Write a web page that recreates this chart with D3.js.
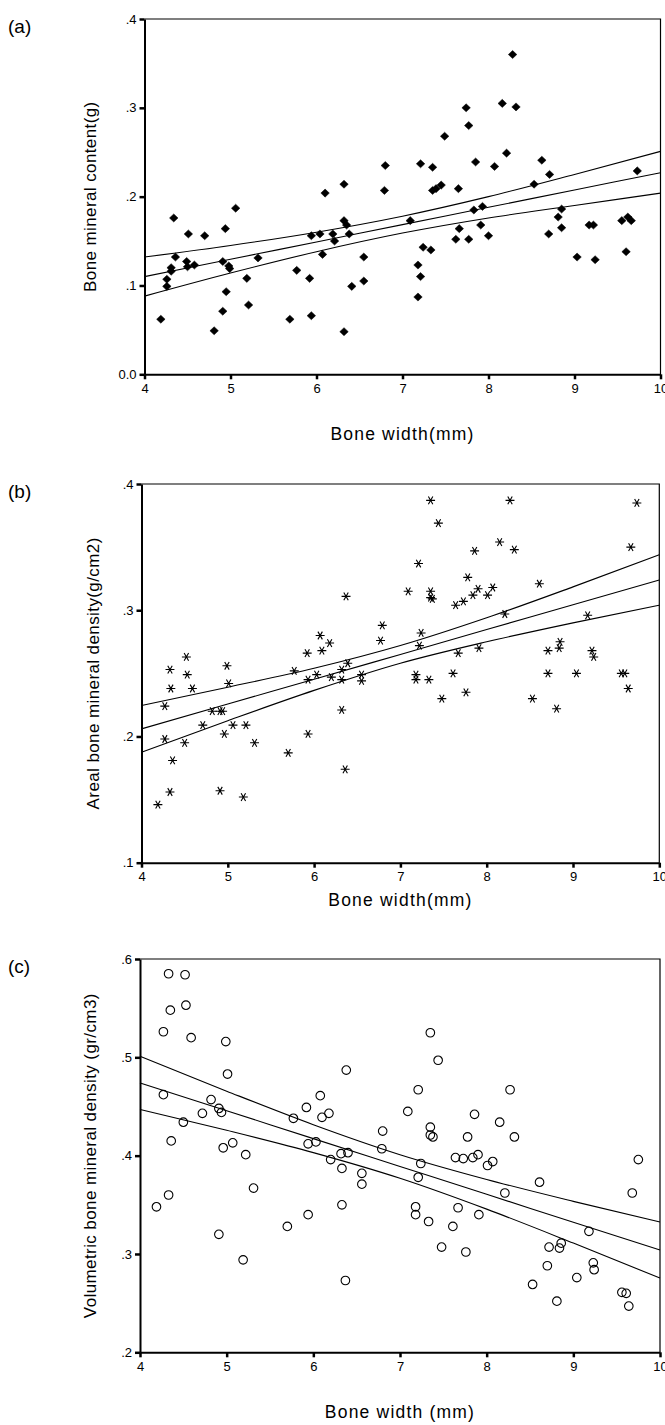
<!DOCTYPE html>
<html>
<head>
<meta charset="utf-8">
<script src="https://cdn.jsdelivr.net/npm/d3@7"></script>
<style>
  body { margin: 0; background: #fff; }
  text { font-family: "Liberation Sans", Arial, sans-serif; fill: #000; }
</style>
</head>
<body>
<div id="chart"></div>
<script>
// bone width (mm) - x values read per panel
const widthA = [4.19,4.26,4.26,4.31,4.31,4.34,4.36,4.49,4.50,4.51,4.58,4.70,4.81,4.91,4.91,4.94,4.95,4.98,4.99,5.06,
  5.19,5.21,5.32,5.69,5.77,5.92,5.94,5.94,6.04,6.07,6.10,6.19,6.21,6.32,6.32,6.35,6.32,6.38,6.41,6.55,6.55,6.79,6.80,
  7.09,7.18,7.21,7.18,7.21,7.24,7.33,7.35,7.35,7.39,7.45,7.49,7.65,7.62,7.66,7.74,7.77,7.77,7.83,7.85,
  7.91,7.93,8.00,8.07,8.16,8.21,8.28,8.32,8.53,8.62,8.70,8.71,8.81,8.85,8.85,9.03,9.17,9.22,9.24,9.55,
  9.60,9.62,9.66,9.73];
const bmcA = [0.062,0.099,0.107,0.120,0.116,0.176,0.132,0.127,0.121,0.158,0.123,0.156,0.049,0.127,0.071,0.164,0.093,0.122,0.119,0.187,
  0.108,0.078,0.131,0.062,0.117,0.108,0.156,0.066,0.158,0.135,0.204,0.158,0.150,0.214,0.173,0.168,0.048,0.158,0.099,0.132,0.105,0.207,0.235,
  0.173,0.123,0.110,0.087,0.237,0.143,0.140,0.233,0.207,0.209,0.213,0.268,0.209,0.152,0.164,0.300,0.280,0.152,0.185,0.239,
  0.168,0.189,0.156,0.234,0.305,0.249,0.360,0.301,0.214,0.241,0.158,0.225,0.177,0.186,0.165,0.132,0.168,0.168,0.129,0.173,
  0.138,0.177,0.173,0.229];

const widthB = [4.19,4.27,4.27,4.33,4.34,4.33,4.36,4.50,4.52,4.53,4.59,4.71,4.82,4.91,4.91,4.94,4.96,4.99,5.01,5.06,
  5.21,5.18,5.31,5.70,5.77,5.92,5.93,5.93,6.03,6.07,6.09,6.18,6.20,6.32,6.32,6.32,6.37,6.39,6.36,6.55,6.55,6.77,6.79,
  7.09,7.18,7.18,7.21,7.22,7.24,7.33,7.35,7.35,7.35,7.37,7.44,7.48,7.61,7.64,7.67,7.73,7.76,7.78,7.84,
  7.86,7.90,7.91,8.01,8.07,8.15,8.21,8.27,8.32,8.53,8.61,8.71,8.71,8.81,8.84,8.85,9.04,9.17,9.22,9.24,
  9.56,9.60,9.64,9.67,9.74];
const abmdB = [0.146,0.224,0.198,0.253,0.238,0.156,0.181,0.195,0.263,0.249,0.238,0.209,0.220,0.157,0.220,0.220,0.202,0.256,0.242,0.209,
  0.209,0.152,0.195,0.187,0.252,0.266,0.245,0.202,0.249,0.280,0.268,0.274,0.247,0.253,0.245,0.221,0.311,0.258,0.174,0.249,0.244,0.276,0.288,
  0.315,0.249,0.245,0.337,0.272,0.282,0.245,0.387,0.315,0.310,0.309,0.369,0.230,0.250,0.304,0.266,0.307,0.235,0.326,0.312,
  0.347,0.317,0.270,0.312,0.318,0.354,0.297,0.387,0.348,0.230,0.321,0.250,0.268,0.222,0.270,0.275,0.250,0.296,0.268,0.263,
  0.250,0.250,0.238,0.350,0.385];

const widthC = [4.19,4.27,4.27,4.33,4.35,4.36,4.33,4.50,4.52,4.53,4.59,4.72,4.82,4.91,4.94,4.91,4.96,4.99,5.01,5.07,
  5.22,5.19,5.31,5.70,5.77,5.92,5.94,5.94,6.03,6.08,6.10,6.18,6.20,6.32,6.33,6.33,6.38,6.40,6.37,6.56,6.56,6.80,6.79,
  7.09,7.18,7.18,7.21,7.21,7.24,7.33,7.35,7.35,7.35,7.38,7.44,7.48,7.61,7.64,7.67,7.73,7.76,7.78,7.84,
  7.86,7.90,7.91,8.01,8.07,8.15,8.21,8.27,8.32,8.53,8.61,8.70,8.72,8.81,8.84,8.86,9.04,9.18,9.23,9.24,
  9.56,9.61,9.64,9.68,9.75];
const vbmdC = [0.348,0.526,0.462,0.585,0.548,0.415,0.360,0.434,0.584,0.553,0.520,0.443,0.457,0.448,0.444,0.320,0.408,0.516,0.483,0.413,
  0.401,0.294,0.367,0.328,0.438,0.449,0.412,0.340,0.414,0.461,0.439,0.443,0.396,0.402,0.387,0.350,0.487,0.403,0.273,0.382,0.371,0.425,0.407,
  0.445,0.348,0.340,0.467,0.378,0.392,0.333,0.525,0.429,0.421,0.419,0.497,0.307,0.328,0.398,0.347,0.397,0.302,0.419,0.398,
  0.442,0.401,0.340,0.390,0.394,0.434,0.362,0.467,0.419,0.269,0.373,0.288,0.307,0.252,0.306,0.311,0.276,0.323,0.291,0.284,
  0.261,0.260,0.247,0.362,0.396];

// fit line and 95% CI read at each whole mm
const fitX = [4, 5, 6, 7, 8, 9, 10];
const fitA = [0.110, 0.1295, 0.149, 0.1685, 0.188, 0.2075, 0.227];
const upperA = [0.132, 0.145, 0.160, 0.178, 0.200, 0.225, 0.251];
const lowerA = [0.088, 0.114, 0.138, 0.159, 0.176, 0.190, 0.204];
const fitB = [0.206, 0.2257, 0.2453, 0.265, 0.2847, 0.3043, 0.324];
const upperB = [0.2245, 0.239, 0.254, 0.272, 0.294, 0.3185, 0.344];
const lowerB = [0.1875, 0.2125, 0.2365, 0.258, 0.275, 0.290, 0.304];
const fitC = [0.474, 0.4457, 0.4173, 0.389, 0.3607, 0.3323, 0.304];
const upperC = [0.501, 0.4656, 0.4315, 0.401, 0.3758, 0.3535, 0.3325];
const lowerC = [0.447, 0.4258, 0.4031, 0.377, 0.3456, 0.3111, 0.2755];

const xTicks = [4, 5, 6, 7, 8, 9, 10];
const yTicksA = [0, 0.1, 0.2, 0.3, 0.4];
const yTicksB = [0.1, 0.2, 0.3, 0.4];
const yTicksC = [0.2, 0.3, 0.4, 0.5, 0.6];

const svg = d3.select("#chart").append("svg")
    .attr("width", 665)
    .attr("height", 1425);

// marker shapes
const diamond = {
  draw(ctx, size) {
    const r = Math.sqrt(size) / 2;
    ctx.moveTo(0, -r * 0.95); ctx.lineTo(r, 0); ctx.lineTo(0, r * 0.95); ctx.lineTo(-r, 0); ctx.closePath();
  }
};
const asterisk = {
  draw(ctx, size) {
    const r = Math.sqrt(size) / 2;
    [0, Math.PI / 3, 2 * Math.PI / 3].forEach(a => {
      const dx = r * Math.cos(a), dy = r * Math.sin(a);
      ctx.moveTo(-dx, -dy); ctx.lineTo(dx, dy);
    });
  }
};

const fmt = d => d === 0 ? "0.0" : d3.format(".1f")(d).replace(/^0/, "");

function panel(p) {
  const x = d3.scaleLinear().domain([4, 10]).range([p.left, p.right]);
  const y = d3.scaleLinear().domain(p.yDomain).range([p.bottom, p.top]);
  const g = svg.append("g");

  // thin top/right frame
  g.append("path")
    .attr("d", `M${p.left},${p.top}H${p.right}V${p.bottom}`)
    .attr("fill", "none").attr("stroke", "#000").attr("stroke-width", 1.2);

  const xa = g.append("g")
    .attr("transform", `translate(0,${p.bottom})`)
    .call(d3.axisBottom(x).tickValues(xTicks).tickFormat(d3.format("d")).tickSize(5).tickSizeOuter(0).tickPadding(4));
  const ya = g.append("g")
    .attr("transform", `translate(${p.left},0)`)
    .call(d3.axisLeft(y).tickValues(p.yTicks).tickFormat(fmt).tickSize(5).tickSizeOuter(0).tickPadding(3));
  [xa, ya].forEach(a => {
    a.select(".domain").attr("stroke-width", 2);
    a.selectAll(".tick line").attr("stroke-width", 2.5);
    a.selectAll(".tick text").style("font-size", "13px").style("font-family", "Liberation Sans, Arial, sans-serif");
  });

  // regression line and confidence band
  const line = d3.line().x(d => x(d[0])).y(d => y(d[1])).curve(d3.curveMonotoneX);
  [p.fit, p.upper, p.lower].forEach(s => {
    g.append("path")
      .datum(fitX.map((v, i) => [v, s[i]]))
      .attr("d", line)
      .attr("fill", "none").attr("stroke", "#000").attr("stroke-width", 1.1);
  });

  // points
  const pts = p.xs.map((v, i) => [v, p.ys[i]]);
  g.selectAll(".pt").data(pts).enter().append("path")
    .attr("class", "pt")
    .attr("transform", d => `translate(${x(d[0])},${y(d[1])})`)
    .attr("d", d3.symbol().type(p.symbol).size(p.size))
    .attr("fill", p.fill)
    .attr("stroke", "#000")
    .attr("stroke-width", p.fill === "none" ? 1.1 : 0.5);

  // titles
  g.append("text")
    .attr("x", 8).attr("y", p.top + 14)
    .style("font-size", "19px")
    .text(p.label);
  g.append("text")
    .attr("transform", `translate(${p.yTitleX},${(p.top + p.bottom) / 2}) rotate(-90)`)
    .attr("text-anchor", "middle")
    .style("font-size", "17px")
    .style("letter-spacing", "0.4px")
    .text(p.yTitle);
  g.append("text")
    .attr("x", (p.left + p.right) / 2).attr("y", p.xTitleY)
    .attr("text-anchor", "middle")
    .style("font-size", "17.5px")
    .style("letter-spacing", "1.2px")
    .text(p.xTitle);
}

panel({ label: "(a)", left: 144.5, right: 660.5, top: 19, bottom: 374.3, yDomain: [0, 0.4], yTicks: yTicksA,
  xs: widthA, ys: bmcA, fit: fitA, upper: upperA, lower: lowerA,
  symbol: diamond, size: 72, fill: "#000",
  yTitle: "Bone mineral content(g)", yTitleX: 96, xTitle: "Bone width(mm)", xTitleY: 440 });

panel({ label: "(b)", left: 141.5, right: 659.3, top: 484, bottom: 862.7, yDomain: [0.1, 0.4], yTicks: yTicksB,
  xs: widthB, ys: abmdB, fit: fitB, upper: upperB, lower: lowerB,
  symbol: asterisk, size: 80, fill: "none",
  yTitle: "Areal bone mineral density(g/cm2)", yTitleX: 99, xTitle: "Bone width(mm)", xTitleY: 906 });

panel({ label: "(c)", left: 140, right: 660, top: 959, bottom: 1352.3, yDomain: [0.2, 0.6], yTicks: yTicksC,
  xs: widthC, ys: vbmdC, fit: fitC, upper: upperC, lower: lowerC,
  symbol: d3.symbolCircle, size: 58, fill: "none",
  yTitle: "Volumetric bone mineral density (gr/cm3)", yTitleX: 96, xTitle: "Bone width (mm)", xTitleY: 1418 });
</script>
</body>
</html>
